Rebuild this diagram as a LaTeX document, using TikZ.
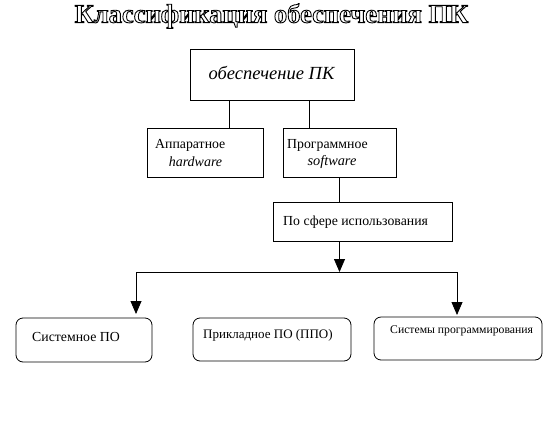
\documentclass[tikz,border=0pt]{standalone}
\usepackage{fontspec}
\setmainfont{Liberation Serif}
\usetikzlibrary{arrows.meta,calc}
\newcommand{\outlinetext}[1]{\special{pdf:code q 2 Tr 0.9 w 0 0 0 RG 1 1 1 rg}#1\special{pdf:code Q}}
\begin{document}
\begin{tikzpicture}[x=1pt,y=-1pt,
  box/.style={draw, line width=0.8pt, inner sep=0pt},
  rbox/.style={draw, rounded corners=7pt, line width=0.8pt, inner sep=0pt},
  conn/.style={line width=0.8pt},
  arr/.style={line width=0.8pt, -{Triangle[width=11pt,length=13pt]}},
  lbl/.style={inner sep=0pt, font=\fontsize{13.8}{15}\selectfont},
  ttl/.style={inner sep=0pt, font=\fontsize{26.5}{30}\selectfont\bfseries},
]
\useasboundingbox (0,0) rectangle (553,436);
% title (outlined)
\node[ttl, text=white] (title) at (271.5,16) {\outlinetext{Классификация обеспечения ПК}};

% boxes
\node[box, minimum width=164pt, minimum height=51pt] (pk) at (272,74.5) {};
\node[lbl, font=\fontsize{18.5}{21}\selectfont\itshape] (pkt) at (271.5,73) {обеспечение ПК};

\node[box, minimum width=116pt, minimum height=49pt] (hw) at (205,152.5) {};
\node[lbl, anchor=west] (hwt1) at (155,145) {Аппаратное};
\node[lbl, font=\fontsize{14}{16}\selectfont\itshape] (hwt2) at (195.5,162) {hardware};

\node[box, minimum width=113pt, minimum height=49pt] (sw) at (339.5,152.5) {};
\node[lbl, anchor=west] (swt1) at (287,145) {Программное};
\node[lbl, font=\fontsize{14.3}{16}\selectfont\itshape] (swt2) at (332,162) {software};

\node[box, minimum width=179pt, minimum height=39pt] (sf) at (362.5,221.5) {};
\node[lbl, anchor=west] (sft) at (283,222) {По сфере использования};

\node[rbox, minimum width=136pt, minimum height=44pt] (sys) at (84,340) {};
\node[lbl, anchor=west] (syst) at (32,337) {Системное ПО};

\node[rbox, minimum width=158pt, minimum height=43pt] (app) at (272,339.5) {};
\node[lbl, anchor=west, font=\fontsize{13}{15}\selectfont] (appt) at (203,335) {Прикладное ПО (ППО)};

\node[rbox, minimum width=168pt, minimum height=43pt] (prg) at (458,338.5) {};
\node[lbl, anchor=west, font=\fontsize{11.7}{13}\selectfont] (prgt) at (390,331) {Системы программирования};

% connectors
\coordinate (c1) at (229,0);
\coordinate (c2) at (309,0);
\coordinate (c3) at (339.5,0);
\draw[conn] (c1 |- pk.south) -- (c1 |- hw.north);
\draw[conn] (c2 |- pk.south) -- (c2 |- sw.north);
\draw[conn] (c3 |- sw.south) -- (c3 |- sf.north);

\coordinate (j) at (339.5,272);
\coordinate (ta) at (136,314);
\coordinate (tc) at (457,315);
\draw[arr] (c3 |- sf.south) -- (j);
\draw[conn] (ta |- j) -- (tc |- j);
\draw[arr] (ta |- j) -- (ta);
\draw[arr] (tc |- j) -- (tc);
\end{tikzpicture}
\end{document}
